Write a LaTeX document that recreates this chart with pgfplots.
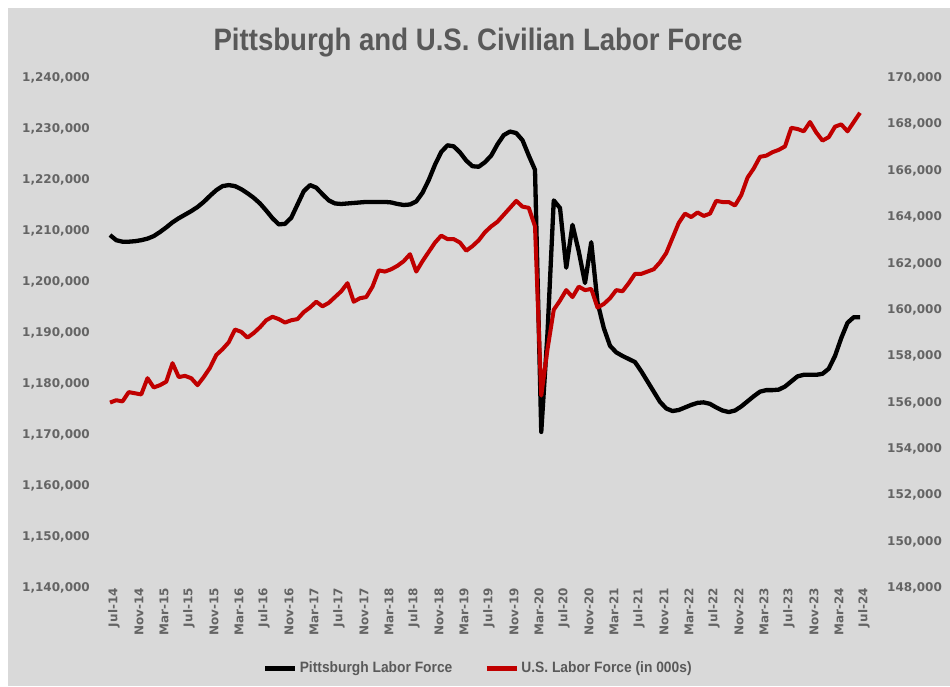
\documentclass[border=0pt]{standalone}
\usepackage{pgfplots}
\pgfplotsset{compat=1.18}
\usepackage{fontspec}
\setmainfont{DejaVu Sans}
\newfontfamily\tickfont{DejaVu Sans}
\newfontfamily\titlefont[FakeStretch=0.89]{Liberation Sans}
\newfontfamily\legfont[FakeStretch=0.92]{Liberation Sans}
\definecolor{bg}{HTML}{D9D9D9}
\definecolor{txt}{HTML}{595959}
\definecolor{tick}{HTML}{646464}
\definecolor{usred}{HTML}{C00000}
\begin{document}
\begin{tikzpicture}
\fill[white] (-107pt,-98pt) rectangle (843pt,588pt);
\fill[bg] (-99pt,-98pt) rectangle (843pt,580pt);
\node[anchor=base, text=txt, font=\titlefont\bfseries\fontsize{31}{36}\selectfont] at (371pt,537pt) {Pittsburgh and U.S. Civilian Labor Force};
\pgfplotsset{
  common/.style={
    scale only axis, width=756pt, height=510pt,
    at={(0pt,0pt)}, anchor=south west,
    xmin=-0.48, xmax=120.48,
    axis line style={draw=none},
    tick style={draw=none},
    major tick length=0pt,
    scaled y ticks=false,
    clip=false,
  }
}
\begin{axis}[common,
  axis y line*=left,
  ymin=1140000, ymax=1240000,
  ytick={1140000,1150000,...,1240000},
  xtick={0,4,...,120},
  xticklabels={Jul-14,Nov-14,Mar-15,Jul-15,Nov-15,Mar-16,Jul-16,Nov-16,Mar-17,Jul-17,Nov-17,Mar-18,Jul-18,Nov-18,Mar-19,Jul-19,Nov-19,Mar-20,Jul-20,Nov-20,Mar-21,Jul-21,Nov-21,Mar-22,Jul-22,Nov-22,Mar-23,Jul-23,Nov-23,Mar-24,Jul-24},
  xticklabel style={rotate=90, anchor=east, inner sep=0pt, yshift=-4pt, text=tick, font=\tickfont\bfseries\fontsize{12}{14}\selectfont},
  yticklabel style={anchor=east, inner sep=0pt, xshift=-17pt, text=tick, font=\tickfont\bfseries\fontsize{12}{14}\selectfont,
    /pgf/number format/.cd, fixed, precision=0, 1000 sep={,}, assume math mode=true},
]
\addplot[black, line width=4.3pt, line join=round, mark=none] coordinates {
(0,1209200)(1,1208200)(2,1207900)(3,1207900)(4,1208000)(5,1208200)(6,1208500)(7,1209000)(8,1209800)(9,1210700)
(10,1211700)(11,1212500)(12,1213200)(13,1213900)(14,1214700)(15,1215700)(16,1216900)(17,1218000)(18,1218800)(19,1219000)
(20,1218800)(21,1218200)(22,1217400)(23,1216500)(24,1215400)(25,1214000)(26,1212500)(27,1211300)(28,1211400)(29,1212600)
(30,1215200)(31,1217800)(32,1219000)(33,1218500)(34,1217200)(35,1216000)(36,1215400)(37,1215300)(38,1215400)(39,1215500)
(40,1215600)(41,1215700)(42,1215700)(43,1215700)(44,1215700)(45,1215600)(46,1215300)(47,1215100)(48,1215200)(49,1215800)
(50,1217500)(51,1220000)(52,1223000)(53,1225500)(54,1226800)(55,1226600)(56,1225400)(57,1223800)(58,1222700)(59,1222600)
(60,1223500)(61,1224800)(62,1227000)(63,1228800)(64,1229500)(65,1229200)(66,1227800)(67,1224800)(68,1222000)(69,1170600)
(70,1190000)(71,1216000)(72,1214500)(73,1202800)(74,1211200)(75,1206000)(76,1199800)(77,1207800)(78,1196000)(79,1191000)
(80,1187500)(81,1186200)(82,1185500)(83,1184900)(84,1184300)(85,1182500)(86,1180500)(87,1178500)(88,1176500)(89,1175200)
(90,1174700)(91,1174900)(92,1175400)(93,1175900)(94,1176300)(95,1176400)(96,1176100)(97,1175400)(98,1174800)(99,1174500)
(100,1174800)(101,1175600)(102,1176600)(103,1177600)(104,1178500)(105,1178800)(106,1178800)(107,1178900)(108,1179500)(109,1180500)
(110,1181500)(111,1181800)(112,1181800)(113,1181800)(114,1182000)(115,1183000)(116,1185500)(117,1189000)(118,1192000)(119,1193100)
(120,1193100)
};
\end{axis}
\begin{axis}[common,
  axis y line*=right,
  axis x line=none,
  ymin=148000, ymax=170000,
  ytick={148000,150000,...,170000},
  yticklabel style={anchor=west, inner sep=0pt, xshift=24pt, text=tick, font=\tickfont\bfseries\fontsize{12}{14}\selectfont,
    /pgf/number format/.cd, fixed, precision=0, 1000 sep={,}, assume math mode=true},
  legend style={draw=none, fill=none, at={(0.491,-0.157)}, anchor=center,
    legend columns=2, font=\legfont\bfseries\fontsize{15}{17}\selectfont, text=txt,
    /tikz/every even column/.append style={column sep=30pt}},
  legend image code/.code={\draw[#1, line width=5pt] (0pt,0pt) -- (30pt,0pt);},
]
\addlegendimage{black, line width=4.3pt}
\addlegendentry{Pittsburgh Labor Force}
\addplot[usred, line width=4pt, line join=round, mark=none] coordinates {
(0,156000)(1,156100)(2,156050)(3,156450)(4,156400)(5,156350)(6,157050)(7,156650)(8,156750)(9,156900)
(10,157700)(11,157100)(12,157150)(13,157050)(14,156750)(15,157100)(16,157500)(17,158050)(18,158300)(19,158600)
(20,159150)(21,159050)(22,158800)(23,159000)(24,159250)(25,159550)(26,159700)(27,159600)(28,159450)(29,159550)
(30,159600)(31,159900)(32,160100)(33,160350)(34,160150)(35,160300)(36,160550)(37,160800)(38,161150)(39,160350)
(40,160500)(41,160550)(42,161000)(43,161700)(44,161650)(45,161750)(46,161900)(47,162100)(48,162400)(49,161650)
(50,162100)(51,162500)(52,162900)(53,163200)(54,163050)(55,163050)(56,162900)(57,162550)(58,162750)(59,163000)
(60,163350)(61,163600)(62,163800)(63,164100)(64,164400)(65,164700)(66,164450)(67,164400)(68,163600)(69,156300)
(70,158300)(71,160000)(72,160400)(73,160850)(74,160550)(75,161000)(76,160850)(77,160900)(78,160100)(79,160250)
(80,160500)(81,160850)(82,160800)(83,161150)(84,161550)(85,161550)(86,161650)(87,161750)(88,162050)(89,162450)
(90,163100)(91,163750)(92,164150)(93,164000)(94,164200)(95,164050)(96,164150)(97,164700)(98,164650)(99,164650)
(100,164500)(101,164950)(102,165700)(103,166100)(104,166600)(105,166650)(106,166800)(107,166900)(108,167050)(109,167850)
(110,167800)(111,167700)(112,168100)(113,167650)(114,167300)(115,167450)(116,167900)(117,168000)(118,167700)(119,168100)
(120,168500)
};
\addlegendentry{U.S. Labor Force (in 000s)}
\end{axis}
\end{tikzpicture}
\end{document}
